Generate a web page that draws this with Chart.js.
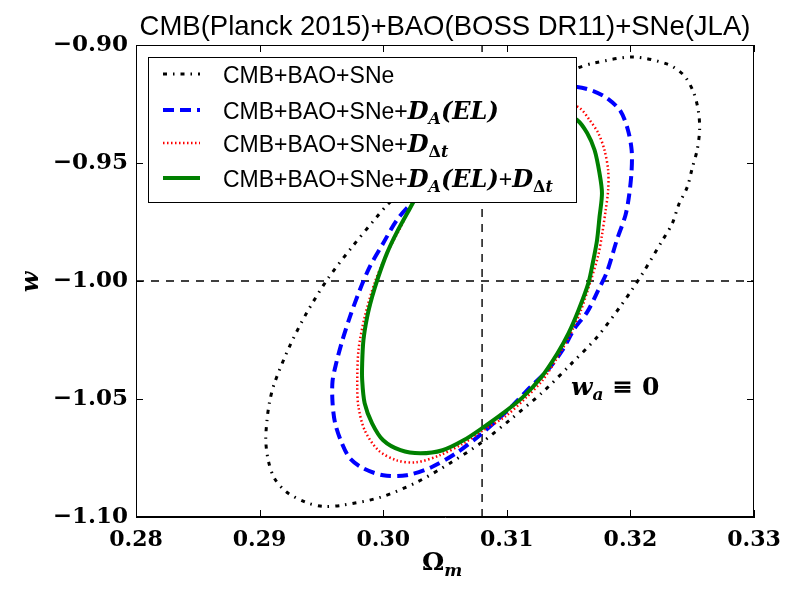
<!DOCTYPE html>
<html>
<head>
<meta charset="utf-8">
<script src="https://cdn.jsdelivr.net/npm/chart.js@4.4.0/dist/chart.umd.min.js"></script>
<style>
  html, body { margin: 0; padding: 0; background: #fff; }
  canvas { display: block; }
</style>
</head>
<body>
<canvas id="contours" width="800" height="600"></canvas>
<script>
// contour traces (Omega_m, w)
const base_x = [0.3202, 0.3230, 0.3243, 0.3251, 0.3255, 0.3256, 0.3254, 0.3250, 0.3246, 0.3239,
                0.3234, 0.3226, 0.3210, 0.3201, 0.3192, 0.3173, 0.3151, 0.3129, 0.3104, 0.3080,
                0.3054, 0.3027, 0.2998, 0.2967, 0.2951, 0.2937, 0.2922, 0.2912, 0.2907, 0.2905,
                0.2906, 0.2908, 0.2912, 0.2924, 0.2938, 0.2955, 0.2974, 0.2994, 0.3004, 0.3030,
                0.3062, 0.3094, 0.3127, 0.3157, 0.3171];
const base_y = [-0.9051, -0.9081, -0.9127, -0.9199, -0.9280, -0.9360, -0.9445, -0.9522, -0.9602, -0.9678,
                -0.9755, -0.9827, -0.9967, -1.0039, -1.0107, -1.0238, -1.0357, -1.0471, -1.0582, -1.0683,
                -1.0772, -1.0853, -1.0916, -1.0950, -1.0955, -1.0937, -1.0895, -1.0836, -1.0760, -1.0675,
                -1.0590, -1.0514, -1.0433, -1.0280, -1.0136, -0.9992, -0.9861, -0.9734, -0.9674, -0.9551,
                -0.9403, -0.9267, -0.9170, -0.9098, -0.9076];

const da_x = [0.3157, 0.3170, 0.3181, 0.3192, 0.3198, 0.3201, 0.3201, 0.3199, 0.3196, 0.3189,
              0.3181, 0.3174, 0.3165, 0.3155, 0.3145, 0.3133, 0.3119, 0.3105, 0.3092, 0.3078,
              0.3060, 0.3039, 0.3019, 0.3000, 0.2984, 0.2973, 0.2966, 0.2961, 0.2959, 0.2959,
              0.2962, 0.2967, 0.2973, 0.2981, 0.2989, 0.3000, 0.3011, 0.3023, 0.3046, 0.3074,
              0.3103, 0.3127, 0.3145];
const da_y = [-0.9178, -0.9195, -0.9225, -0.9280, -0.9360, -0.9445, -0.9530, -0.9636, -0.9721, -0.9827,
              -0.9962, -1.0039, -1.0132, -1.0200, -1.0293, -1.0378, -1.0450, -1.0526, -1.0590, -1.0654,
              -1.0726, -1.0789, -1.0823, -1.0823, -1.0794, -1.0751, -1.0680, -1.0600, -1.0514, -1.0425,
              -1.0348, -1.0251, -1.0153, -1.0039, -0.9941, -0.9840, -0.9742, -0.9670, -0.9551, -0.9424,
              -0.9310, -0.9225, -0.9182];

const dt_x = [0.3159, 0.3167, 0.3174, 0.3179, 0.3182, 0.3182, 0.3180, 0.3177, 0.3174, 0.3168,
              0.3160, 0.3151, 0.3141, 0.3129, 0.3115, 0.3099, 0.3081, 0.3065, 0.3046, 0.3027,
              0.3011, 0.2996, 0.2985, 0.2980, 0.2979, 0.2980, 0.2985, 0.2993, 0.3003, 0.3014,
              0.3024, 0.3050, 0.3078, 0.3107, 0.3131, 0.3147];
const dt_y = [-0.9267, -0.9318, -0.9373, -0.9445, -0.9530, -0.9615, -0.9700, -0.9806, -0.9891, -0.9997,
              -1.0124, -1.0230, -1.0323, -1.0420, -1.0497, -1.0573, -1.0632, -1.0688, -1.0738, -1.0768,
              -1.0760, -1.0717, -1.0632, -1.0534, -1.0450, -1.0293, -1.0153, -1.0009, -0.9883, -0.9773,
              -0.9670, -0.9538, -0.9416, -0.9318, -0.9259, -0.9246];

const joint_x = [0.3157, 0.3165, 0.3171, 0.3175, 0.3177, 0.3175, 0.3173, 0.3170, 0.3166, 0.3158,
                 0.3150, 0.3141, 0.3128, 0.3113, 0.3097, 0.3081, 0.3065, 0.3048, 0.3030, 0.3014,
                 0.3000, 0.2991, 0.2985, 0.2983, 0.2983, 0.2984, 0.2987, 0.2991, 0.2996, 0.3003,
                 0.3011, 0.3020, 0.3028, 0.3050, 0.3078, 0.3107, 0.3131, 0.3145];
const joint_y = [-0.9318, -0.9373, -0.9445, -0.9543, -0.9628, -0.9729, -0.9827, -0.9912, -1.0009, -1.0124,
                 -1.0221, -1.0306, -1.0407, -1.0492, -1.0560, -1.0620, -1.0675, -1.0717, -1.0730, -1.0717,
                 -1.0675, -1.0603, -1.0518, -1.0420, -1.0348, -1.0251, -1.0153, -1.0068, -0.9983, -0.9883,
                 -0.9794, -0.9708, -0.9636, -0.9521, -0.9411, -0.9331, -0.9292, -0.9292];

// fiducial values marked by the dashed lines
const refOmega = 0.308;
const refW = -1.00;

const xRange = [0.28, 0.33];
const yRange = [-1.10, -0.90];
const xStep = 0.01;
const yStep = 0.05;

const title = 'CMB(Planck 2015)+BAO(BOSS DR11)+SNe(JLA)';
const annotPos = [0.3152, -1.0483];

const sans = '"Liberation Sans", Arial, sans-serif';
const serif = '"DejaVu Serif", serif';

// closed path from the x/y lists, started at a point hidden under the legend
function loop(xs, ys, start) {
    const pts = [];
    for (let k = 0; k <= xs.length; k++) {
        const i = (start + k) % xs.length;
        pts.push({ x: xs[i], y: ys[i] });
    }
    return pts;
}

const styles = [
    { color: '#000000', width: 3, dash: [4, 6, 1.5, 6] },
    { color: '#0000ff', width: 4, dash: [11, 6] },
    { color: '#ff0000', width: 2.5, dash: [1.5, 2.5] },
    { color: '#008000', width: 4, dash: [] }
];

const mathBig = 'italic bold 24px ' + serif;
const mathSub = 'italic bold 16px ' + serif;
const greekSub = 'bold 16px ' + serif;
const legendRows = [
    [['CMB+BAO+SNe', '23px ' + sans]],
    [['CMB+BAO+SNe+', '23px ' + sans], ['D', mathBig], ['A', mathSub, 5], ['(EL)', mathBig]],
    [['CMB+BAO+SNe+', '23px ' + sans], ['D', mathBig], ['\u0394', greekSub, 5], ['t', mathSub, 5]],
    [['CMB+BAO+SNe+', '23px ' + sans], ['D', mathBig], ['A', mathSub, 5], ['(EL)', mathBig],
     ['+', '23px ' + sans], ['D', mathBig], ['\u0394', greekSub, 5], ['t', mathSub, 5]]
];

function drawRich(ctx, x, y, parts) {
    parts.forEach(p => {
        ctx.font = p[1];
        ctx.fillText(p[0], x, y + (p[2] || 0));
        x += ctx.measureText(p[0]).width;
    });
    return x;
}

function lineDataset(data, st, order) {
    return {
        data: data,
        showLine: true,
        borderColor: st.color,
        borderWidth: st.width,
        borderDash: st.dash,
        pointRadius: 0,
        tension: 0.3,
        fill: false,
        order: order
    };
}

const refStyle = { color: '#000000', width: 1.4, dash: [8, 7] };
const vLine = lineDataset([{ x: refOmega, y: yRange[0] }, { x: refOmega, y: yRange[1] }], refStyle, 5);
const hLine = lineDataset([{ x: xRange[0], y: refW }, { x: xRange[1], y: refW }], refStyle, 5);
vLine.tension = 0;
hLine.tension = 0;

const decorations = {
    id: 'decorations',
    afterDatasetsDraw(chart) {
        const ctx = chart.ctx;
        // legend box on top of the contours
        ctx.save();
        ctx.fillStyle = '#fff';
        ctx.fillRect(148, 57, 429, 145);
        ctx.strokeStyle = '#000';
        ctx.lineWidth = 1;
        ctx.strokeRect(148.5, 57.5, 428, 145);
        const rowY = [74, 110, 143, 178];
        legendRows.forEach((row, i) => {
            const st = styles[i];
            ctx.beginPath();
            ctx.strokeStyle = st.color;
            ctx.lineWidth = st.width;
            ctx.setLineDash(st.dash);
            ctx.moveTo(163, rowY[i]);
            ctx.lineTo(200, rowY[i]);
            ctx.stroke();
            ctx.setLineDash([]);
            ctx.fillStyle = '#000';
            ctx.textBaseline = 'alphabetic';
            drawRich(ctx, 223, rowY[i] + 9, row);
        });
        ctx.restore();
    },
    afterDraw(chart) {
        const ctx = chart.ctx;
        const a = chart.chartArea;
        const xs = chart.scales.x;
        const ys = chart.scales.y;
        ctx.save();
        ctx.strokeStyle = '#000';
        ctx.lineWidth = 1;
        ctx.strokeRect(Math.round(a.left) + 0.5, Math.round(a.top) + 0.5,
                       Math.round(a.right - a.left) - 1, Math.round(a.bottom - a.top) - 1);
        // inward ticks on all four sides
        ctx.beginPath();
        xs.ticks.forEach(t => {
            const px = Math.round(xs.getPixelForValue(t.value)) + 0.5;
            ctx.moveTo(px, a.bottom); ctx.lineTo(px, a.bottom - 7);
            ctx.moveTo(px, a.top); ctx.lineTo(px, a.top + 7);
        });
        ys.ticks.forEach(t => {
            const py = Math.round(ys.getPixelForValue(t.value)) + 0.5;
            ctx.moveTo(a.left, py); ctx.lineTo(a.left + 7, py);
            ctx.moveTo(a.right, py); ctx.lineTo(a.right - 7, py);
        });
        ctx.stroke();

        ctx.fillStyle = '#000';
        ctx.textBaseline = 'alphabetic';
        // x axis title: Omega_m
        drawRich(ctx, 422, 570, [['\u03A9', 'bold 25px ' + serif], ['m', 'italic bold 17px ' + serif, 6]]);
        // y axis title: w
        ctx.save();
        ctx.translate(38, 282);
        ctx.rotate(-Math.PI / 2);
        ctx.font = 'italic bold 24px ' + serif;
        ctx.textAlign = 'center';
        ctx.fillText('w', 0, 0);
        ctx.restore();
        // annotation w_a = 0
        const ax = xs.getPixelForValue(annotPos[0]);
        const ay = ys.getPixelForValue(annotPos[1]);
        drawRich(ctx, ax, ay, [['w', 'italic bold 25px ' + serif], ['a', 'italic bold 17px ' + serif, 5],
                               [' \u2261 0', 'bold 25px ' + serif]]);
        ctx.restore();
    }
};

function fmt(v) {
    const s = Math.abs(v).toFixed(2);
    return v < -1e-9 ? '\u2212' + s : s;
}

new Chart(document.getElementById('contours'), {
    type: 'scatter',
    data: {
        datasets: [
            lineDataset(loop(joint_x, joint_y, 34), styles[3], 0),
            lineDataset(loop(dt_x, dt_y, 32), styles[2], 1),
            lineDataset(loop(da_x, da_y, 39), styles[1], 2),
            lineDataset(loop(base_x, base_y, 40), styles[0], 3),
            vLine,
            hLine
        ]
    },
    options: {
        responsive: false,
        devicePixelRatio: 1,
        animation: false,
        layout: { padding: { left: 0, right: 46, top: 0, bottom: 0 } },
        plugins: {
            legend: { display: false },
            tooltip: { enabled: false },
            title: {
                display: true,
                text: title,
                fullSize: false,
                color: '#000',
                font: { family: sans, size: 27.5, weight: 'normal' },
                padding: { top: 11, bottom: 1 }
            }
        },
        scales: {
            x: {
                type: 'linear',
                min: xRange[0],
                max: xRange[1],
                grid: { display: false, drawTicks: false },
                border: { display: true, color: '#000', width: 1 },
                ticks: {
                    stepSize: xStep,
                    padding: 10,
                    color: '#000',
                    font: { family: serif, size: 22, weight: 'bold' },
                    callback: v => fmt(v)
                },
                afterFit: s => { s.height = 83; }
            },
            y: {
                type: 'linear',
                min: yRange[0],
                max: yRange[1],
                grid: { display: false, drawTicks: false },
                border: { display: true, color: '#000', width: 1 },
                ticks: {
                    stepSize: yStep,
                    padding: 8,
                    color: '#000',
                    font: { family: serif, size: 23, weight: 'bold' },
                    callback: v => fmt(v)
                },
                afterFit: s => { s.width = 136; }
            }
        }
    },
    plugins: [decorations]
});
</script>
</body>
</html>
